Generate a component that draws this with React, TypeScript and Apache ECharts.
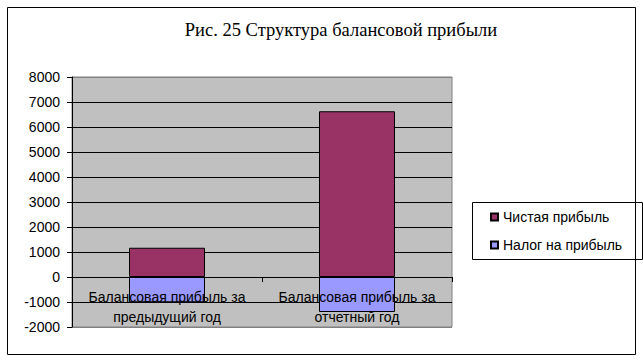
import React, { useEffect, useRef } from "react";
import * as echarts from "echarts";

const titleText = "Рис. 25 Структура балансовой прибыли";
const categories = ["Балансовая прибыль за\nпредыдущий год", "Балансовая прибыль за\nотчетный год"];
const netProfit = [1170, 6630];
const profitTax = [-1010, -1400];
const seriesNames = ["Чистая прибыль", "Налог на прибыль"];
const yMin = -2000;
const yMax = 8000;
const yStep = 1000;

export default function App() {
  const ref = useRef<HTMLDivElement>(null);
  useEffect(() => {
    if (!ref.current) return;
    const chart = echarts.init(ref.current, null, { renderer: "svg" });
    const nTicks = Math.round((yMax - yMin) / yStep) + 1;
    const splitColors: string[] = [];
    for (let i = 0; i < nTicks; i++) splitColors.push(i === 0 || i === nTicks - 1 ? "#808080" : "#000000");
    chart.setOption({
      animation: false,
      backgroundColor: "#ffffff",
      textStyle: { fontFamily: "Liberation Sans, Arial, sans-serif" },
      grid: {
        left: 72,
        top: 77,
        right: 191,
        bottom: 34,
        show: true,
        containLabel: false,
        outerBoundsMode: "none",
        backgroundColor: "#C0C0C0",
        borderColor: "#808080",
        borderWidth: 1,
      },
      legend: {
        orient: "vertical",
        left: 485,
        top: 205,
        itemWidth: 7,
        itemHeight: 7,
        itemGap: 14,
        icon: "rect",
        data: [seriesNames[0], seriesNames[1]],
        textStyle: { fontSize: 14, color: "#000", fontFamily: "Liberation Sans, Arial, sans-serif" },
      },
      xAxis: {
        type: "category",
        data: categories,
        z: 5,
        axisLine: { onZero: true, lineStyle: { color: "#000", width: 1 } },
        axisTick: { show: true, length: 5, lineStyle: { color: "#000" } },
        axisLabel: {
          color: "#000",
          fontSize: 14,
          lineHeight: 20,
          margin: -40,
          interval: 0,
        },
        splitLine: { show: false },
      },
      yAxis: {
        type: "value",
        min: yMin,
        max: yMax,
        interval: yStep,
        axisLine: { show: true, lineStyle: { color: "#000", width: 1 } },
        axisTick: { show: true, length: 5, lineStyle: { color: "#000" } },
        axisLabel: { color: "#000", fontSize: 14, margin: 12, formatter: (v: number) => String(v) },
        splitLine: { show: true, lineStyle: { color: splitColors, width: 1 } },
      },
      series: [
        {
          name: seriesNames[0],
          type: "bar",
          stack: "total",
          data: netProfit,
          barWidth: "40%",
          itemStyle: { color: "#993366", borderColor: "#000", borderWidth: 1 },
        },
        {
          name: seriesNames[1],
          type: "bar",
          stack: "total",
          data: profitTax,
          barWidth: "40%",
          itemStyle: { color: "#9999FF", borderColor: "#000", borderWidth: 1 },
        },
      ],
      graphic: [
        {
          type: "rect",
          shape: { x: 7.5, y: 7.5, width: 628, height: 347 },
          style: { fill: "none", stroke: "#000", lineWidth: 1 },
          z: 10,
        },
        {
          type: "rect",
          shape: { x: 472.5, y: 202.5, width: 170, height: 57 },
          style: { fill: "none", stroke: "#000", lineWidth: 1 },
          z: 10,
        },
        {
          type: "text",
          x: 341,
          y: 30,
          style: {
            text: titleText,
            fill: "#000",
            font: "18.5px 'Liberation Serif', 'Times New Roman', serif",
            textAlign: "center",
            textVerticalAlign: "middle",
          },
        },
      ],
    });
    return () => chart.dispose();
  }, []);
  return <div ref={ref} style={{ position: "absolute", left: 0, top: 0, width: 643, height: 361 }} />;
}
